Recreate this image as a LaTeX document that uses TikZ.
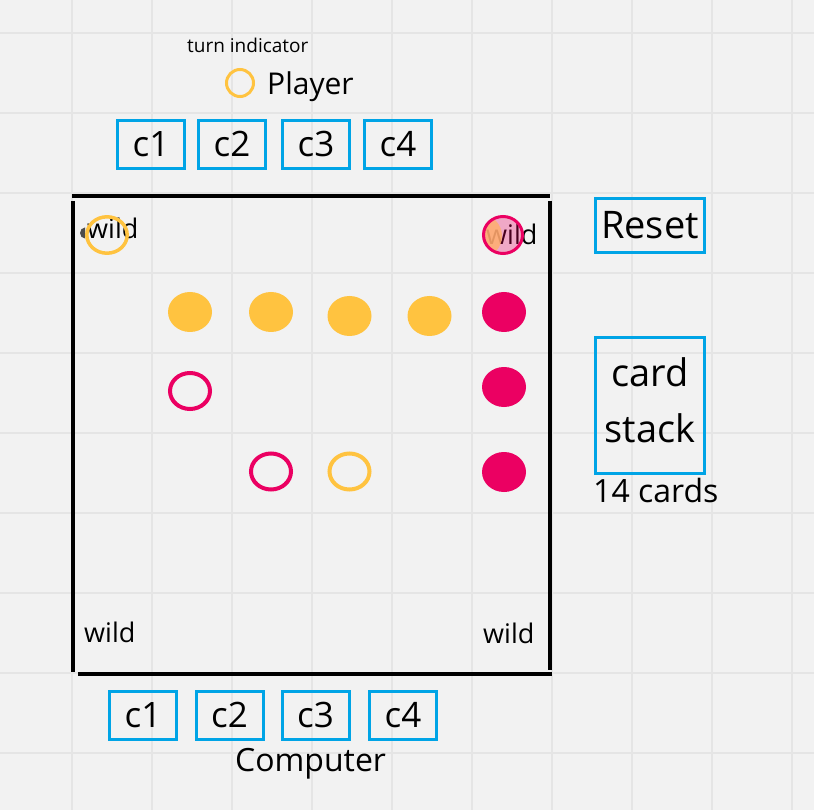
\documentclass[tikz,border=0pt]{standalone}
\usepackage{fontspec}
\setmainfont{Open Sans}
\definecolor{bg}{HTML}{F2F2F2}
\definecolor{gridgray}{HTML}{E5E5E5}
\definecolor{cardblue}{HTML}{00A4E6}
\definecolor{tokyellow}{HTML}{FFC340}
\definecolor{tokred}{HTML}{EB0062}
\definecolor{tokorange}{HTML}{FFAE6E}
\tikzset{
  cardbox/.style={draw=cardblue, line width=3pt, inner sep=0pt,
    minimum width=67pt, minimum height=48pt, font=\fontsize{35}{38}\selectfont},
  btnbox/.style={draw=cardblue, line width=3pt, inner sep=0pt,
    minimum width=109pt, align=center, font=\fontsize{38}{56}\selectfont},
  txt/.style={inner sep=0pt, anchor=base west},
  board/.style={line width=4pt},
  ring/.style={line width=4pt}
}
\begin{document}
\begin{tikzpicture}[x=1pt,y=-1pt]
\useasboundingbox (0,0) rectangle (814,810);
\fill[bg] (0,0) rectangle (814,810);
% grid
\foreach \x in {72,152,...,792} \draw[gridgray, line width=1.2pt] (\x,0) -- (\x,810);
\foreach \y in {33,113,...,753} \draw[gridgray, line width=1.2pt] (0,\y) -- (814,\y);
% board
\draw[board] (72,196) -- (550,196);
\draw[board] (73,201) -- (73,672);
\draw[board] (78,674) -- (552,674);
\draw[board] (550,201) -- (550,670);
% player side
\node[txt, font=\fontsize{19}{21}\selectfont] (turnlbl) at (187,53) {turn indicator};
\draw[tokyellow, line width=3pt] (240,83) circle[radius=13.5];
\node[txt, font=\fontsize{30}{32}\selectfont] (player) at (267,95) {Player};
\foreach \i/\x in {1/151,2/232,3/316,4/398}
  \node[cardbox] (pc\i) at (\x,144.5) {c\i};
% computer side
\foreach \i/\x in {1/143,2/229.5,3/315.5,4/403}
  \node[cardbox] (cc\i) at (\x,715) {c\i};
\node[txt, font=\fontsize{32}{34}\selectfont] (computer) at (235,771) {Computer};
% buttons
\node[btnbox, minimum height=54pt] (reset) at (650,225.5) {Reset};
\node[btnbox, minimum height=136pt, text depth=10pt] (stack) at (650,405.5) {card\\stack};
\node[txt, font=\fontsize{32}{34}\selectfont] (count) at (593,502) {14 cards};
% tokens
\foreach \x/\y in {190/312,271/312,349.5/316,429.5/316}
  \fill[tokyellow] (\x,\y) ellipse[x radius=22, y radius=20];
\foreach \y in {312,387,472}
  \fill[tokred] (504,\y) ellipse[x radius=22, y radius=20];
\foreach \x/\y in {190/391,271/471.5}
  \draw[tokred, ring] (\x,\y) ellipse[x radius=20, y radius=18];
\draw[tokyellow, ring] (349.5,471.5) ellipse[x radius=20, y radius=18];
% wild corners
\node[txt, font=\fontsize{27}{29}\selectfont] (wildtl) at (87,239) {wild};
\node[txt, font=\fontsize{27}{29}\selectfont] (wildtr) at (486,245) {wild};
\node[txt, font=\fontsize{27}{29}\selectfont] (wildbl) at (84,642) {wild};
\node[txt, font=\fontsize{27}{29}\selectfont] (wildbr) at (483,643) {wild};
\begin{scope}
  \clip (78,226) rectangle (85,241);
  \fill[gray!60!black] (85,233) ellipse[x radius=5, y radius=5.5];
\end{scope}
\draw[tokyellow, line width=3.5pt] (107,235) ellipse[x radius=20.2, y radius=18.2];
\begin{scope}
  \clip (503,235) ellipse[x radius=19.5, y radius=18.5];
  \fill[tokred, opacity=0.3] (503,235) ellipse[x radius=19.5, y radius=18.5];
  \fill[tokorange, opacity=0.85] (482,236) ellipse[x radius=20, y radius=21];
\end{scope}
\draw[tokred, line width=3pt] (503,235) ellipse[x radius=19.5, y radius=18.5];
\end{tikzpicture}
\end{document}
